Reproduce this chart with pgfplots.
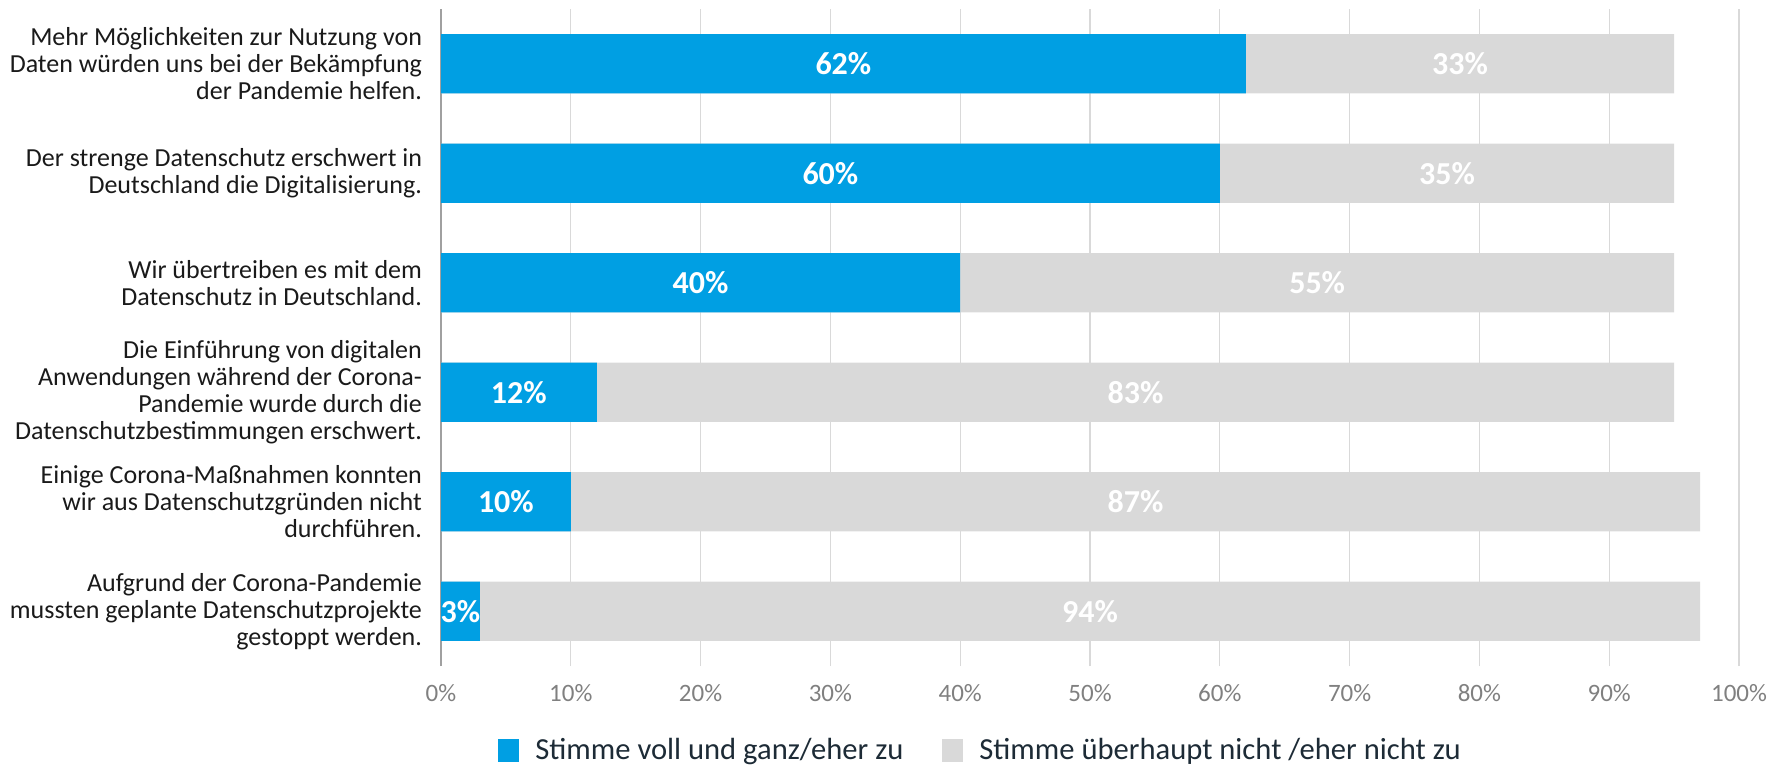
\documentclass[border=0pt]{standalone}
\usepackage{fontspec}
\setmainfont{Carlito}
\usepackage{pgfplots}
\pgfplotsset{compat=1.18}
\usepackage{pgfplotstable}

\definecolor{agreeblue}{HTML}{009FE3}
\definecolor{restgray}{HTML}{D9D9D9}
\definecolor{gridgray}{HTML}{D9D9D9}
\definecolor{axisgray}{HTML}{A0A0A0}
\definecolor{ticktext}{HTML}{808080}
\definecolor{labeltext}{HTML}{1A1A1A}
\definecolor{legtext}{HTML}{1D2B36}

% idx 5 = top row
\pgfplotstableread{
idx agree disagree
5 62 33
4 60 35
3 40 55
2 12 83
1 10 87
0 3 94
}\data

\begin{document}
\begin{tikzpicture}
\useasboundingbox (0,0) rectangle (885pt,383.5pt);
\begin{axis}[
    at={(220.5pt,50.5pt)}, anchor=south west,
    scale only axis, width=649pt, height=328.5pt,
    xmin=0, xmax=100, ymin=-0.5, ymax=5.5,
    /pgf/number format/assume math mode=true,
    axis line style={draw=none},
    tick style={draw=none},
    xtick={0,10,...,100},
    xticklabel={\pgfmathprintnumber{\tick}\%},
    xticklabel style={text=ticktext, font=\fontsize{12.5}{13}\selectfont, yshift=-5.5pt},
    xmajorgrids, grid style={draw=gridgray, line width=0.6pt},
    extra x ticks={0}, extra x tick labels={},
    extra x tick style={grid style={draw=axisgray, line width=0.7pt}},
    ytick={0,...,5},
    yticklabels={
      {Aufgrund der Corona-Pandemie\\mussten geplante Datenschutzprojekte\\gestoppt werden.},
      {Einige Corona-Maßnahmen konnten\\wir aus Datenschutzgründen nicht\\durchführen.},
      {Die Einführung von digitalen\\Anwendungen während der Corona-\\Pandemie wurde durch die\\Datenschutzbestimmungen erschwert.},
      {Wir übertreiben es mit dem\\Datenschutz in Deutschland.},
      {Der strenge Datenschutz erschwert in\\Deutschland die Digitalisierung.},
      {Mehr Möglichkeiten zur Nutzung von\\Daten würden uns bei der Bekämpfung\\der Pandemie helfen.}
    },
    yticklabel style={align=right, text=labeltext, font=\fontsize{13}{13.5}\selectfont, xshift=-6pt},
    legend image code/.code={\fill[#1] (0pt,-5.75pt) rectangle (10.5pt,5.75pt);},
    legend style={at={(0.0439,-0.128)}, anchor=west, draw=none, fill=none,
      inner sep=0pt, legend columns=2, text=legtext,
      font=\fontsize{15.3}{16}\selectfont,
      nodes={inner sep=0pt},
      /tikz/every odd column/.append style={column sep=8pt},
      /tikz/every even column/.append style={column sep=19.5pt}},
  ]
  \addlegendimage{fill=agreeblue, draw=none}
  \addlegendentry{Stimme voll und ganz/eher zu}
  \addlegendimage{fill=restgray, draw=none}
  \addlegendentry{Stimme überhaupt nicht /eher nicht zu}

  % gray bar spans agree+disagree, blue drawn on top
  \addplot[xbar, bar width=0.54, bar shift=0pt, fill=restgray, draw=none, forget plot]
    table[x expr=\thisrow{agree}+\thisrow{disagree}, y=idx] {\data};
  \addplot[xbar, bar width=0.54, bar shift=0pt, fill=agreeblue, draw=none, forget plot]
    table[x=agree, y=idx] {\data};

  % labels centred in each segment
  \addplot[draw=none, mark=none, forget plot, point meta=explicit,
    nodes near coords={\pgfmathprintnumber{\pgfplotspointmeta}\%},
    nodes near coords style={anchor=center, text=white, font=\fontsize{16}{16}\selectfont\bfseries}]
    table[x expr=\thisrow{agree}/2, y=idx, meta=agree] {\data};
  \addplot[draw=none, mark=none, forget plot, point meta=explicit,
    nodes near coords={\pgfmathprintnumber{\pgfplotspointmeta}\%},
    nodes near coords style={anchor=center, text=white, font=\fontsize{16}{16}\selectfont\bfseries}]
    table[x expr=\thisrow{agree}+\thisrow{disagree}/2, y=idx, meta=disagree] {\data};
\end{axis}
\end{tikzpicture}
\end{document}
